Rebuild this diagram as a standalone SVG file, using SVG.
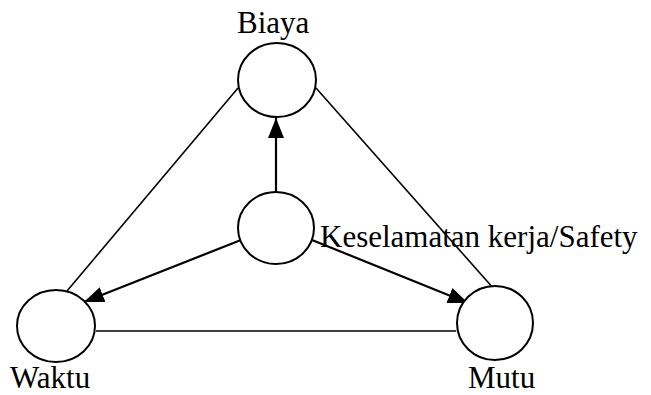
<svg xmlns="http://www.w3.org/2000/svg" width="651" height="395" viewBox="0 0 651 395">
<style>
.node{fill:#fff;stroke:#000;stroke-width:2}
.lbl{font-family:"Liberation Serif","Times New Roman",serif;font-size:31px;fill:#000}
.ln{stroke:#000;stroke-width:1.6;fill:none}
.ar{stroke:#000;stroke-width:2.2;fill:none;marker-end:url(#a1)}
</style>
<defs>
<marker id="a1" viewBox="0 0 20 16" refX="20" refY="8" markerWidth="20" markerHeight="16" markerUnits="userSpaceOnUse" orient="auto"><path d="M0,0 L20,8 L0,16 z" fill="#000"/></marker>
</defs>
<g id="connectors">
<line class="ln" x1="238" y1="88" x2="67" y2="291"/>
<line class="ln" x1="316" y1="88" x2="494" y2="289"/>
<line class="ln" x1="96" y1="331" x2="456" y2="331"/>
<line class="ar" x1="276" y1="192" x2="276" y2="118"/>
<line class="ar" x1="241" y1="240" x2="84" y2="302"/>
<line class="ar" x1="312" y1="240" x2="468" y2="303"/>
</g>
<g id="biaya"><ellipse class="node" cx="277" cy="80" rx="39" ry="37"/><text class="lbl" x="237" y="33">Biaya</text></g>
<g id="safety"><ellipse class="node" cx="276" cy="228" rx="38" ry="36"/><text class="lbl" x="320" y="247">Keselamatan kerja/Safety</text></g>
<g id="waktu"><ellipse class="node" cx="56" cy="326" rx="39" ry="36"/><text class="lbl" x="10" y="388">Waktu</text></g>
<g id="mutu"><ellipse class="node" cx="495" cy="323" rx="38" ry="37"/><text class="lbl" x="468" y="388">Mutu</text></g>
</svg>
